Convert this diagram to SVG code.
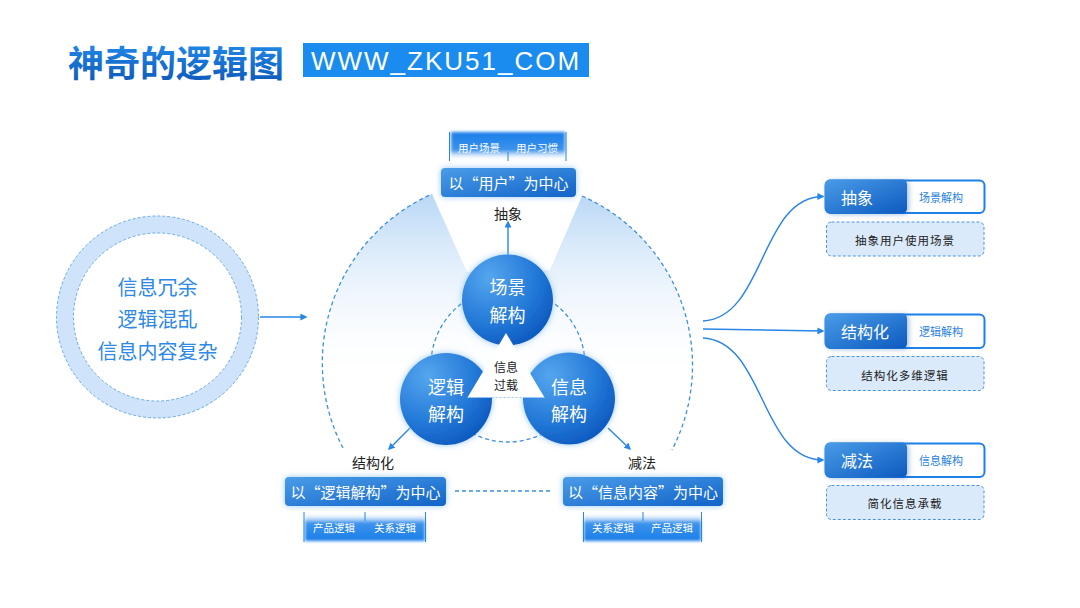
<svg xmlns="http://www.w3.org/2000/svg" width="1080" height="608" viewBox="0 0 1080 608">
<defs>
<style>
.cn{font-family:"Noto Sans CJK SC","Noto Sans",sans-serif;}
.lat{font-family:"Liberation Sans",Arial,sans-serif;}
.mid{text-anchor:middle;dominant-baseline:central;}
.dash{fill:none;stroke:#3d8ee0;stroke-width:1.3;stroke-dasharray:4 3;}
.line{fill:none;stroke:#2a85e6;stroke-width:1.4;}
.wt{fill:#ffffff;}
.lbl{fill:#222222;font-size:14px;}
.tabtxt{fill:#ffffff;font-size:10.5px;}
.boxtxt{fill:#ffffff;font-size:15px;}
.balltxt{fill:#ffffff;font-size:18px;}
.vline{stroke:#2a85e6;stroke-width:1;}
.rbox{fill:#ffffff;stroke:#1e80ea;stroke-width:2;}
.dbox{fill:#dbeafb;stroke:#4a95e3;stroke-width:1;stroke-dasharray:3 2;}
.rsub{fill:#2a7fdc;font-size:11px;}
.rdesc{fill:#222222;font-size:11.5px;letter-spacing:1px;}
.rhead{fill:#ffffff;font-size:16px;}
</style>
<linearGradient id="titleG" x1="0" y1="0" x2="0" y2="1">
<stop offset="0" stop-color="#2592f0"/><stop offset="1" stop-color="#0b55b6"/>
</linearGradient>
<radialGradient id="ballG" cx="0.3" cy="0.25" r="0.85">
<stop offset="0" stop-color="#55a6ee"/><stop offset="0.6" stop-color="#2379d8"/><stop offset="1" stop-color="#0a56bd"/>
</radialGradient>
<linearGradient id="boxG" x1="0" y1="0" x2="1" y2="1">
<stop offset="0" stop-color="#4a9ce8"/><stop offset="1" stop-color="#1264c8"/>
</linearGradient>
<linearGradient id="headG" x1="0" y1="0" x2="1" y2="1">
<stop offset="0" stop-color="#4a9ce8"/><stop offset="1" stop-color="#0c5abf"/>
</linearGradient>
<linearGradient id="regionG" gradientUnits="userSpaceOnUse" x1="0" y1="185" x2="0" y2="385">
<stop offset="0" stop-color="#b1d3f5"/><stop offset="1" stop-color="#ffffff" stop-opacity="0"/>
</linearGradient>
<linearGradient id="tabTopG" x1="0" y1="0" x2="0" y2="1">
<stop offset="0" stop-color="#1a7ee8"/><stop offset="0.65" stop-color="#3c93ec"/><stop offset="1" stop-color="#ffffff" stop-opacity="0"/>
</linearGradient>
<linearGradient id="tabBotG" x1="0" y1="0" x2="0" y2="1">
<stop offset="0" stop-color="#ffffff" stop-opacity="0"/><stop offset="0.35" stop-color="#3c93ec"/><stop offset="1" stop-color="#1a7ee8"/>
</linearGradient>
<filter id="glow" x="-30%" y="-30%" width="160%" height="160%">
<feGaussianBlur in="SourceAlpha" stdDeviation="3"/>
<feComponentTransfer><feFuncA type="linear" slope="0.8"/></feComponentTransfer>
<feFlood flood-color="#8cc3f7"/>
<feComposite operator="in" in2="" />
<feMerge><feMergeNode/><feMergeNode in="SourceGraphic"/></feMerge>
</filter>
<filter id="halo" x="-30%" y="-30%" width="160%" height="160%">
<feGaussianBlur in="SourceAlpha" stdDeviation="3" result="b"/>
<feFlood flood-color="#8cc3f7" flood-opacity="0.9"/>
<feComposite operator="in" in2="b" result="g"/>
<feMerge><feMergeNode in="g"/><feMergeNode in="SourceGraphic"/></feMerge>
</filter>
<filter id="shadowR" x="-20%" y="-20%" width="150%" height="150%">
<feGaussianBlur in="SourceAlpha" stdDeviation="2.5" result="b"/>
<feOffset in="b" dx="2" dy="1" result="o"/>
<feFlood flood-color="#0a4fa8" flood-opacity="0.35"/>
<feComposite operator="in" in2="o" result="s"/>
<feMerge><feMergeNode in="s"/><feMergeNode in="SourceGraphic"/></feMerge>
</filter>
<filter id="soft" x="-10%" y="-20%" width="120%" height="140%">
<feGaussianBlur stdDeviation="1.6"/>
</filter>
<marker id="arr" viewBox="0 0 10 10" refX="8" refY="5" markerWidth="7" markerHeight="7" orient="auto" markerUnits="userSpaceOnUse">
<path d="M0,0 L10,5 L0,10 Z" fill="#2a85e6"/>
</marker>
</defs>

<rect x="0" y="0" width="1080" height="608" fill="#ffffff"/>

<g id="title">
<text x="68" y="77" class="cn" font-size="36" font-weight="bold" fill="url(#titleG)">神奇的逻辑图</text>
<rect x="303" y="43" width="286" height="34" fill="#1a8cf0"/>
<text x="446" y="61" class="lat mid" font-size="26" fill="#ffffff" letter-spacing="2">WWW_ZKU51_COM</text>
</g>

<g id="region">
<path d="M343,448 A185,185 0 0 1 432,194 L467,272 L550,270 L582,196 A185,185 0 0 1 672,450 Z" fill="url(#regionG)"/>
<path class="dash" d="M343,448 A185,185 0 0 1 432,194"/>
<path class="dash" d="M582,196 A185,185 0 0 1 672,450"/>
<circle class="dash" cx="508" cy="365" r="77"/>
</g>

<g id="problem">
<circle cx="157.5" cy="317" r="92.5" fill="none" stroke="#cfe4fa" stroke-width="17"/>
<circle cx="157.5" cy="317" r="101" fill="none" stroke="#5aa2e8" stroke-width="0.9" stroke-dasharray="3 2"/>
<circle cx="157.5" cy="317" r="84" fill="#ffffff" stroke="#5aa2e8" stroke-width="0.9" stroke-dasharray="3 2"/>
<text x="157.5" y="286" class="cn mid" font-size="20" fill="#2d88e6">信息冗余</text>
<text x="157.5" y="318" class="cn mid" font-size="20" fill="#2d88e6">逻辑混乱</text>
<text x="157.5" y="350" class="cn mid" font-size="20" fill="#2d88e6">信息内容复杂</text>
</g>

<g id="connectors">
<line class="line" x1="260" y1="317" x2="306" y2="317" marker-end="url(#arr)"/>
<line class="line" x1="508" y1="255" x2="508" y2="222" marker-end="url(#arr)"/>
<line class="line" x1="410" y1="428" x2="389" y2="449" marker-end="url(#arr)"/>
<line class="line" x1="608" y1="428" x2="630" y2="449" marker-end="url(#arr)"/>
<line class="dash" x1="455" y1="491" x2="553" y2="491"/>
<path class="line" d="M703,321 C765,318 760,197 823,196.5" marker-end="url(#arr)"/>
<path class="line" d="M703,329 L823,331" marker-end="url(#arr)"/>
<path class="line" d="M703,338 C765,341 760,460 823,460" marker-end="url(#arr)"/>
</g>

<g id="labels">
<text x="508" y="213" class="cn mid lbl">抽象</text>
<text x="373" y="462" class="cn mid lbl">结构化</text>
<text x="642" y="462" class="cn mid lbl">减法</text>
</g>

<g id="node-top">
<rect x="451" y="132" width="114" height="28" fill="url(#tabTopG)" filter="url(#soft)"/>
<line class="vline" x1="449.5" y1="132" x2="449.5" y2="161"/>
<line class="vline" x1="566" y1="132" x2="566" y2="161"/>
<line class="vline" x1="508" y1="152" x2="508" y2="161"/>
<text x="479" y="147" class="cn mid tabtxt">用户场景</text>
<text x="537" y="147" class="cn mid tabtxt">用户习惯</text>
<rect x="441" y="168" width="135" height="29" rx="4" fill="url(#boxG)" filter="url(#halo)"/>
<text x="508.5" y="182.5" class="cn mid boxtxt">以“用户”为中心</text>
</g>

<g id="node-bl">
<rect x="285" y="477" width="161" height="29" rx="4" fill="url(#boxG)" filter="url(#halo)"/>
<text x="365.5" y="491.5" class="cn mid boxtxt">以“逻辑解构”为中心</text>
<rect x="305" y="513" width="120" height="28" fill="url(#tabBotG)" filter="url(#soft)"/>
<line class="vline" x1="304" y1="512" x2="304" y2="542"/>
<line class="vline" x1="425.5" y1="512" x2="425.5" y2="542"/>
<line class="vline" x1="365" y1="512" x2="365" y2="521"/>
<text x="334" y="527" class="cn mid tabtxt">产品逻辑</text>
<text x="395" y="527" class="cn mid tabtxt">关系逻辑</text>
</g>

<g id="node-br">
<rect x="563" y="477" width="160" height="29" rx="4" fill="url(#boxG)" filter="url(#halo)"/>
<text x="643" y="491.5" class="cn mid boxtxt">以“信息内容”为中心</text>
<rect x="584" y="513" width="117" height="28" fill="url(#tabBotG)" filter="url(#soft)"/>
<line class="vline" x1="583.5" y1="512" x2="583.5" y2="542"/>
<line class="vline" x1="701.5" y1="512" x2="701.5" y2="542"/>
<line class="vline" x1="643" y1="512" x2="643" y2="521"/>
<text x="613" y="527" class="cn mid tabtxt">关系逻辑</text>
<text x="672" y="527" class="cn mid tabtxt">产品逻辑</text>
</g>

<g id="ball-top">
<circle cx="507.5" cy="300" r="45.5" fill="url(#ballG)" filter="url(#halo)"/>
<text x="507.5" y="286" class="cn mid balltxt">场景</text>
<text x="507.5" y="314" class="cn mid balltxt">解构</text>
</g>
<g id="ball-left">
<circle cx="446" cy="399" r="46" fill="url(#ballG)" filter="url(#halo)"/>
<text x="446" y="386" class="cn mid balltxt">逻辑</text>
<text x="446" y="413" class="cn mid balltxt">解构</text>
</g>
<g id="ball-right">
<circle cx="569" cy="398.5" r="46" fill="url(#ballG)" filter="url(#halo)"/>
<text x="569" y="386" class="cn mid balltxt">信息</text>
<text x="569" y="413" class="cn mid balltxt">解构</text>
</g>
<g id="triangle">
<polygon points="506,333 467.5,397.5 544.5,397.5" fill="#ffffff"/>
<line x1="467.5" y1="397.5" x2="544.5" y2="397.5" stroke="#9cc7f2" stroke-width="1" stroke-dasharray="2 2"/>
<text x="506" y="366" class="cn mid" font-size="12" fill="#222222">信息</text>
<text x="506" y="384" class="cn mid" font-size="12" fill="#222222">过载</text>
</g>

<g id="r1">
<rect class="rbox" x="825.5" y="180.5" width="159" height="32.5" rx="5"/>
<rect x="825" y="179.5" width="82" height="34" rx="5" fill="url(#headG)" filter="url(#shadowR)"/>
<text x="841" y="197" class="cn rhead" dominant-baseline="central">抽象</text>
<text x="941" y="197" class="cn mid rsub">场景解构</text>
<rect class="dbox" x="826.5" y="222" width="157.5" height="34" rx="5"/>
<text x="905" y="240" class="cn mid rdesc">抽象用户使用场景</text>
</g>
<g id="r2">
<rect class="rbox" x="825.5" y="314.5" width="159" height="33.5" rx="5"/>
<rect x="825" y="313.5" width="82" height="35" rx="5" fill="url(#headG)" filter="url(#shadowR)"/>
<text x="841" y="331" class="cn rhead" dominant-baseline="central">结构化</text>
<text x="941" y="331" class="cn mid rsub">逻辑解构</text>
<rect class="dbox" x="826.5" y="356.5" width="157.5" height="34" rx="5"/>
<text x="905" y="375" class="cn mid rdesc">结构化多维逻辑</text>
</g>
<g id="r3">
<rect class="rbox" x="825.5" y="443.5" width="159" height="33.5" rx="5"/>
<rect x="825" y="442.5" width="82" height="35" rx="5" fill="url(#headG)" filter="url(#shadowR)"/>
<text x="841" y="460" class="cn rhead" dominant-baseline="central">减法</text>
<text x="941" y="460" class="cn mid rsub">信息解构</text>
<rect class="dbox" x="826.5" y="485.5" width="157.5" height="34" rx="5"/>
<text x="905" y="503" class="cn mid rdesc">简化信息承载</text>
</g>
</svg>
